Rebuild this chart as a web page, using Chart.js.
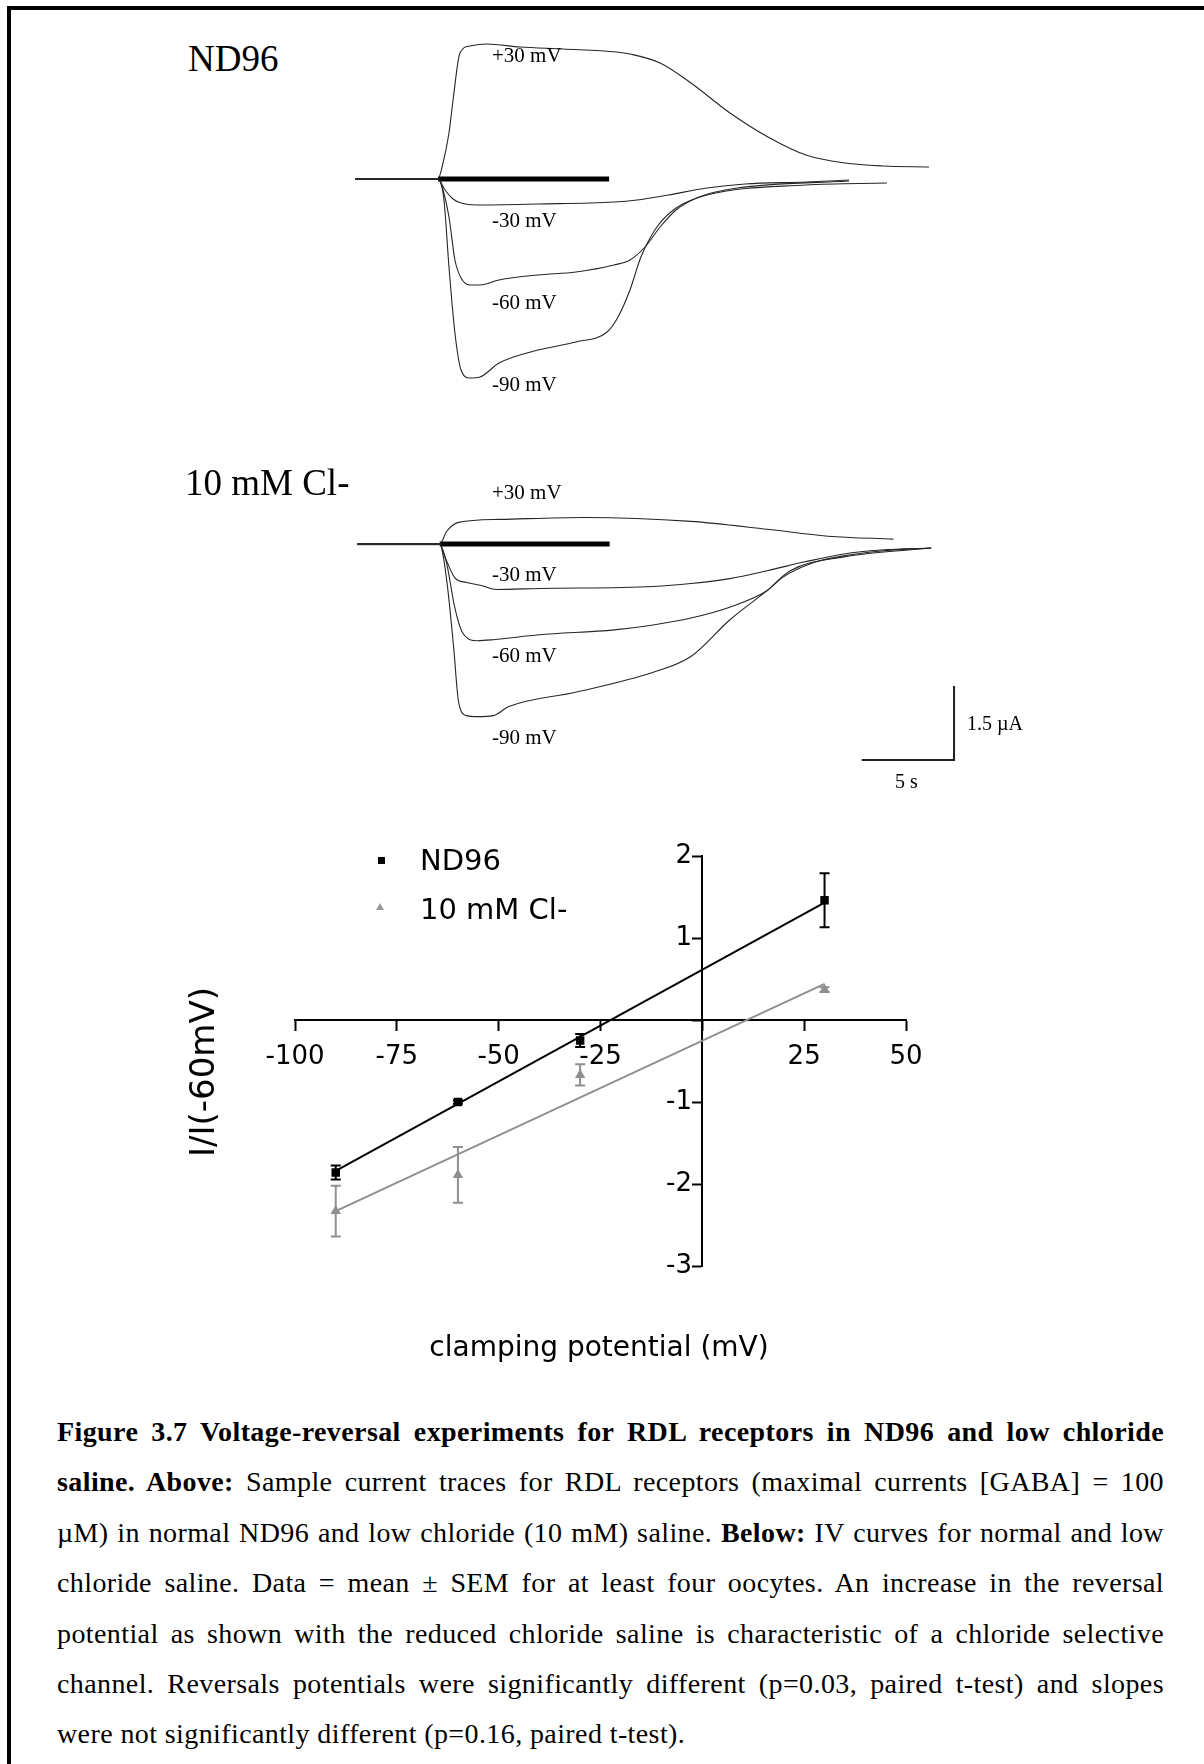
<!DOCTYPE html>
<html>
<head>
<meta charset="utf-8">
<script src="https://cdn.jsdelivr.net/npm/chart.js@4.4.0/dist/chart.umd.min.js"></script>
<style>
    html, body { margin: 0; padding: 0; background: #fff; }
    #page { position: relative; width: 1204px; height: 1764px; overflow: hidden; background: #fff; }
    #page canvas { position: absolute; }
    .frame-top { position: absolute; left: 7px; top: 6px; width: 1197px; height: 4px; background: #000; }
    .frame-left { position: absolute; left: 7px; top: 6px; width: 4px; height: 1758px; background: #000; }
    .lbl { position: absolute; white-space: nowrap; color: #000; line-height: 1; }
    .serif { font-family: "Liberation Serif", "Times New Roman", serif; }
    .sans { font-family: "DejaVu Sans", sans-serif; }
    .caption { position: absolute; left: 57px; top: 1407px; width: 1107px; font-family: "Liberation Serif", serif; font-size: 28px; letter-spacing: 0.4px; line-height: 50.4px; color: #000; }
    .caption div { text-align: justify; text-align-last: justify; white-space: nowrap; }
    .caption div.last { text-align-last: left; }
    .mk-sq { position: absolute; width: 7px; height: 7px; background: #000; }
    .mk-tri { position: absolute; width: 0; height: 0; border-left: 4px solid transparent; border-right: 4px solid transparent; border-bottom: 7px solid #999; }
</style>
</head>
<body>
<div id="page">
    <div class="frame-top"></div>
    <div class="frame-left"></div>

    <canvas id="trazoND96" width="640" height="400" style="left:330px; top:20px;"></canvas>
    <canvas id="trazoCl" width="700" height="360" style="left:330px; top:440px;"></canvas>
    <canvas id="curvaIV" width="1204" height="600" style="left:0px; top:780px;"></canvas>

    <div class="mk-sq" style="left:378px; top:857px;"></div>
    <div class="mk-tri" style="left:376px; top:903px;"></div>

    <div class="caption">
        <div><b>Figure 3.7 Voltage-reversal experiments for RDL receptors in ND96 and low chloride</b></div>
        <div><b>saline. Above:</b> Sample current traces for RDL receptors (maximal currents [GABA] = 100</div>
        <div>µM) in normal ND96 and low chloride (10 mM) saline. <b>Below:</b> IV curves for normal and low</div>
        <div>chloride saline. Data = mean ± SEM for at least four oocytes. An increase in the reversal</div>
        <div>potential as shown with the reduced chloride saline is characteristic of a chloride selective</div>
        <div>channel. Reversals potentials were significantly different (p=0.03, paired t-test) and slopes</div>
        <div class="last">were not significantly different (p=0.16, paired t-test).</div>
    </div>
</div>

<script>
// Trazos de corriente: [tiempo (s), corriente (µA)], t = 0 al aplicar GABA
const nd96Mas30 = [[-4.46, 0], [0, 0], [0.22, 0.24], [0.59, 0.92], [0.81, 1.58], [1.18, 2.52], [1.72, 2.66], [2.63, 2.70], [4.41, 2.64], [6.72, 2.60], [9.62, 2.54], [10.32, 2.50], [11.94, 2.32], [13.60, 1.92], [15.70, 1.32], [17.74, 0.84], [19.78, 0.48], [21.88, 0.32], [23.92, 0.26], [26.40, 0.24]];
const nd96Menos30 = [[-4.46, 0], [0, 0], [0.38, -0.22], [0.81, -0.40], [1.24, -0.48], [2.04, -0.52], [5.38, -0.50], [9.46, -0.46], [10.70, -0.42], [12.37, -0.32], [14.46, -0.18], [16.51, -0.10], [19.78, -0.06], [22.10, -0.02]];
const nd96Menos60 = [[-4.46, 0], [0, 0], [0.22, -0.16], [0.59, -0.76], [0.91, -1.62], [1.24, -1.98], [1.72, -2.12], [2.26, -2.12], [3.28, -2.02], [5.38, -1.92], [7.42, -1.86], [9.46, -1.72], [10.32, -1.62], [11.13, -1.36], [11.94, -0.96], [12.80, -0.62], [14.03, -0.36], [16.08, -0.18], [22.10, -0.04]];
const nd96Menos90 = [[-4.46, 0], [0, 0], [0.32, -0.42], [0.59, -1.76], [0.91, -3.08], [1.24, -3.82], [1.72, -3.98], [2.26, -3.96], [3.28, -3.68], [5.38, -3.42], [7.42, -3.26], [9.09, -3.06], [9.68, -2.76], [10.32, -2.22], [10.91, -1.56], [11.77, -0.96], [12.80, -0.58], [14.46, -0.32], [19.78, -0.12], [24.14, -0.08]];

const clMas30 = [[-4.46, 0], [0, 0], [0.38, 0.26], [1.02, 0.44], [3.28, 0.50], [7.85, 0.54], [13.60, 0.46], [17.74, 0.30], [21.02, 0.16], [24.57, 0.10]];
const clMenos30 = [[-4.46, 0], [0, 0], [0.22, -0.20], [0.81, -0.68], [1.45, -0.78], [2.26, -0.84], [3.06, -0.92], [5.38, -0.90], [11.56, -0.86], [13.60, -0.80], [15.70, -0.70], [17.74, -0.54], [19.78, -0.36], [21.88, -0.20], [23.92, -0.12], [26.61, -0.08]];
const clMenos60 = [[-4.46, 0], [0, 0], [0.38, -0.40], [0.81, -1.28], [1.24, -1.80], [2.04, -1.96], [2.90, -1.94], [5.38, -1.84], [9.46, -1.74], [11.56, -1.64], [13.60, -1.50], [15.70, -1.28], [17.74, -0.94], [18.55, -0.68], [20.22, -0.38], [21.88, -0.24], [23.92, -0.14], [26.61, -0.08]];
const clMenos90 = [[-4.46, 0], [0, 0], [0.38, -0.74], [0.75, -2.08], [1.02, -3.20], [1.45, -3.48], [2.04, -3.50], [2.90, -3.48], [3.71, -3.30], [7.42, -3.00], [11.56, -2.60], [13.60, -2.28], [15.70, -1.54], [17.74, -0.94], [18.98, -0.54], [21.88, -0.26], [26.61, -0.08]];

// Barra de aplicacion de GABA (s) y barra de escala (5 s, 1.5 µA)
const aplicacionGABA = [0, 9.2];
const escalaOrigen = [22.85, -4.38];
const escalaTiempo = 5;
const escalaCorriente = 1.5;

// Curva IV (potencial en mV, I/I(-60mV) media ± SEM)
const potenciales = [-90, -60, -30, 30];
const nd96Media = [-1.86, -1.00, -0.25, 1.46];
const nd96Sem = [0.085, 0.02, 0.08, 0.33];
const clMedia = [-2.33, -1.89, -0.67, 0.37];
const clSem = [0.31, 0.34, 0.13, 0.03];
const rangoAjuste = [-90, 30];
const nd96Ajuste = [-1.84, 1.43];
const clAjuste = [-2.33, 0.44];
const ticksX = [-100, -75, -50, -25, 0, 25, 50];
const ticksY = [-3, -2, -1, 0, 1, 2];

const PX_POR_S = 18.6;
const PX_POR_UA = 50;
const GRIS = '#8f8f8f';

function aPuntos(pares) {
    return pares.map(([x, y]) => ({ x, y }));
}

function etiqueta(texto, x, base, clase, tam, extra) {
    const el = document.createElement('div');
    el.className = 'lbl ' + clase;
    el.textContent = texto;
    el.style.fontSize = tam + 'px';
    el.style.left = x + 'px';
    const k = clase === 'sans' ? 0.846 : 0.8375;
    el.style.top = (base - k * tam) + 'px';
    if (extra) Object.assign(el.style, extra);
    document.getElementById('page').appendChild(el);
    return el;
}

function graficoTrazos(id, origenX, origenY, trazos) {
    const canvas = document.getElementById(id);
    const w = canvas.width, h = canvas.height;
    const linea = (pares, color, ancho, curva) => ({
        data: aPuntos(pares),
        showLine: true,
        borderColor: color,
        borderWidth: ancho,
        pointRadius: 0,
        cubicInterpolationMode: curva ? 'monotone' : 'default',
        tension: 0,
        clip: false
    });
    const datasets = trazos.map(t => linea(t, '#262626', 1.1, true));
    datasets.push(linea([[-4.46, 0], [0, 0]], '#555', 2.2, false));
    datasets.push(linea([[aplicacionGABA[0], 0], [aplicacionGABA[1], 0]], '#000', 5, false));
    return new Chart(canvas, {
        type: 'scatter',
        data: { datasets },
        options: {
            responsive: false,
            animation: false,
            devicePixelRatio: 1,
            layout: { padding: 0 },
            plugins: { legend: { display: false }, tooltip: { enabled: false } },
            scales: {
                x: { type: 'linear', display: false, min: -origenX / PX_POR_S, max: (w - origenX) / PX_POR_S },
                y: { type: 'linear', display: false, min: -(h - origenY) / PX_POR_UA, max: origenY / PX_POR_UA }
            }
        }
    });
}

graficoTrazos('trazoND96', 108, 159, [nd96Mas30, nd96Menos30, nd96Menos60, nd96Menos90]);
const chartCl = graficoTrazos('trazoCl', 108, 103, [clMas30, clMenos30, clMenos60, clMenos90]);

// Barra de escala en unidades de datos
chartCl.data.datasets.push({
    data: aPuntos([
        [escalaOrigen[0], escalaOrigen[1]],
        [escalaOrigen[0] + escalaTiempo, escalaOrigen[1]],
        [escalaOrigen[0] + escalaTiempo, escalaOrigen[1] + escalaCorriente]
    ]),
    showLine: true, borderColor: '#222', borderWidth: 2, pointRadius: 0, tension: 0, clip: false
});
chartCl.update();

// Barras de error (media ± SEM)
const barrasError = {
    id: 'barrasError',
    afterDatasetsDraw(chart) {
        const { ctx, scales: { x, y } } = chart;
        chart.data.datasets.forEach(ds => {
            if (!ds.sem) return;
            ctx.save();
            ctx.strokeStyle = ds.borderColor;
            ctx.lineWidth = 2;
            ds.data.forEach((p, i) => {
                const px = x.getPixelForValue(p.x);
                const arriba = y.getPixelForValue(p.y + ds.sem[i]);
                const abajo = y.getPixelForValue(p.y - ds.sem[i]);
                ctx.beginPath();
                ctx.moveTo(px, arriba); ctx.lineTo(px, abajo);
                ctx.moveTo(px - 5, arriba); ctx.lineTo(px + 5, arriba);
                ctx.moveTo(px - 5, abajo); ctx.lineTo(px + 5, abajo);
                ctx.stroke();
            });
            ctx.restore();
        });
    }
};

const fuenteTicks = { family: 'DejaVu Sans', size: 26 };

new Chart(document.getElementById('curvaIV'), {
    type: 'scatter',
    data: {
        datasets: [
            {
                data: rangoAjuste.map((x, i) => ({ x, y: nd96Ajuste[i] })),
                showLine: true, borderColor: '#000', borderWidth: 2, pointRadius: 0
            },
            {
                data: rangoAjuste.map((x, i) => ({ x, y: clAjuste[i] })),
                showLine: true, borderColor: GRIS, borderWidth: 2, pointRadius: 0
            },
            {
                data: potenciales.map((x, i) => ({ x, y: clMedia[i] })),
                sem: clSem,
                borderColor: GRIS, backgroundColor: GRIS,
                pointStyle: 'triangle', pointRadius: 6, borderWidth: 0
            },
            {
                data: potenciales.map((x, i) => ({ x, y: nd96Media[i] })),
                sem: nd96Sem,
                borderColor: '#000', backgroundColor: '#000',
                pointStyle: 'rect', pointRadius: 6, borderWidth: 0
            }
        ]
    },
    options: {
        responsive: false,
        animation: false,
        devicePixelRatio: 1,
        layout: { padding: { left: 295, right: 298, top: 76, bottom: 114 } },
        plugins: { legend: { display: false }, tooltip: { enabled: false } },
        scales: {
            x: {
                type: 'linear', min: -100, max: 50,
                position: { y: 0 },
                afterBuildTicks: s => { s.ticks = ticksX.map(value => ({ value })); },
                ticks: {
                    color: '#000', font: fuenteTicks, padding: 12, autoSkip: false, maxRotation: 0,
                    callback: v => (v === 0 ? '' : v)
                },
                grid: { drawOnChartArea: false, drawTicks: true, tickLength: 10, tickColor: '#000', tickWidth: 2 },
                border: { display: true, color: '#000', width: 2 }
            },
            y: {
                type: 'linear', min: -3, max: 2,
                position: { x: 0 },
                afterBuildTicks: s => { s.ticks = ticksY.map(value => ({ value })); },
                ticks: {
                    color: '#000', font: fuenteTicks, autoSkip: false,
                    // el eje centrado no aplica padding: se separa con espacios finos
                    callback: v => (v === 0 ? '' : v + '\u2009\u2009')
                },
                grid: { drawOnChartArea: false, drawTicks: true, tickLength: 9, tickColor: '#000', tickWidth: 2 },
                border: { display: true, color: '#000', width: 2 }
            }
        }
    },
    plugins: [barrasError]
});

// Rotulos de los trazos
etiqueta('ND96', 188, 71, 'serif', 37);
etiqueta('10 mM Cl-', 185, 495, 'serif', 37);
etiqueta('+30 mV', 492, 63, 'serif', 21);
etiqueta('-30 mV', 492, 228, 'serif', 21);
etiqueta('-60 mV', 492, 310, 'serif', 21);
etiqueta('-90 mV', 492, 392, 'serif', 21);
etiqueta('+30 mV', 492, 500, 'serif', 21);
etiqueta('-30 mV', 492, 582, 'serif', 21);
etiqueta('-60 mV', 492, 663, 'serif', 21);
etiqueta('-90 mV', 492, 745, 'serif', 21);
etiqueta('1.5 µA', 967, 730, 'serif', 20);
etiqueta('5 s', 895, 788, 'serif', 20);

// Leyenda y titulos de ejes de la curva IV
etiqueta('ND96', 420, 871, 'sans', 29);
etiqueta('10 mM Cl-', 420, 920, 'sans', 29);
etiqueta('clamping potential (mV)', 599, 1357, 'sans', 28, { transform: 'translateX(-50%)' });
etiqueta('I/I(-60mV)', 202, 1072, 'sans', 34, { transform: 'translate(-50%, -50%) rotate(-90deg)', top: '1072px' });
</script>
</body>
</html>
